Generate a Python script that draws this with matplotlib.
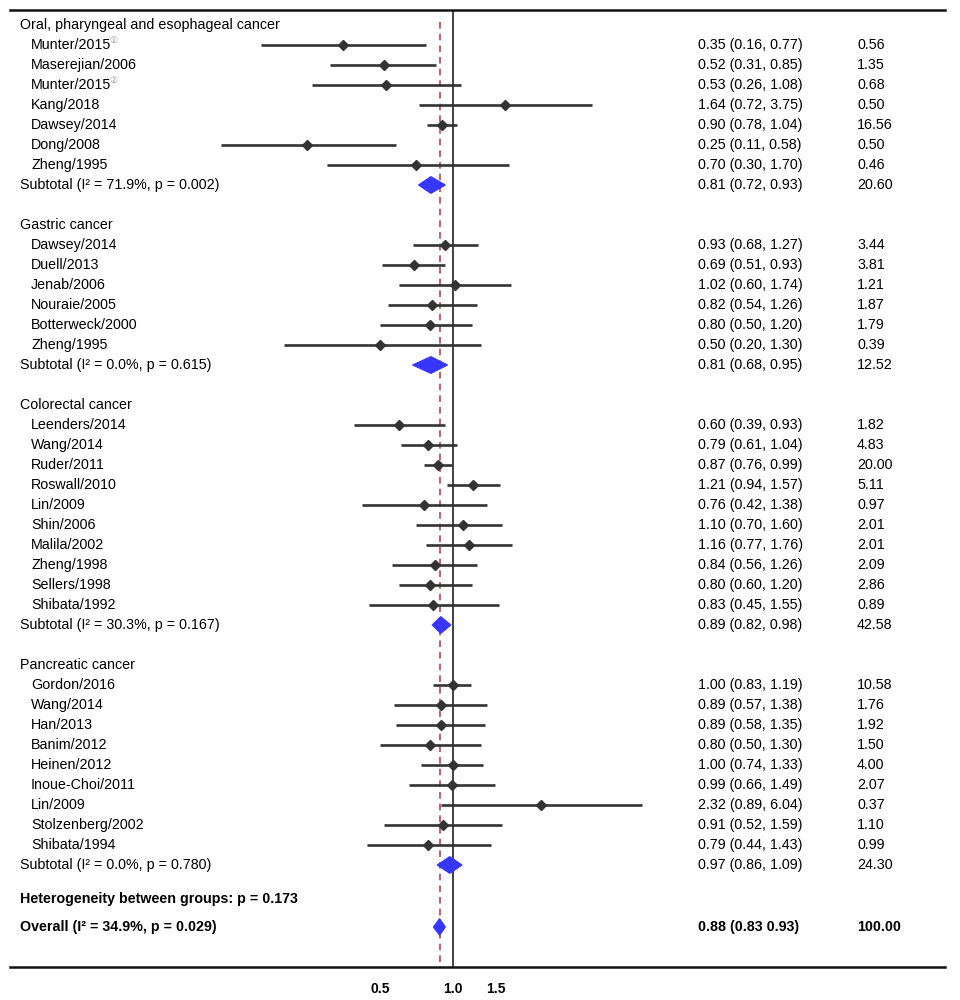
import numpy as np
import matplotlib
matplotlib.use('Agg')
import matplotlib.pyplot as plt
from matplotlib.patches import Polygon

plt.rcParams['font.family'] = ['Liberation Sans', 'DejaVu Sans']

# data
groups = ['Oral, pharyngeal and esophageal cancer', 'Gastric cancer',
          'Colorectal cancer', 'Pancreatic cancer']

oral_names = ['Munter/2015', 'Maserejian/2006', 'Munter/2015', 'Kang/2018',
              'Dawsey/2014', 'Dong/2008', 'Zheng/1995']
oral_sup = ['\u2460', '', '\u2461', '', '', '', '']
oral_or = [0.35, 0.52, 0.53, 1.64, 0.90, 0.25, 0.70]
oral_lo = [0.16, 0.31, 0.26, 0.72, 0.78, 0.11, 0.30]
oral_hi = [0.77, 0.85, 1.08, 3.75, 1.04, 0.58, 1.70]
oral_w = [0.56, 1.35, 0.68, 0.50, 16.56, 0.50, 0.46]

gastric_names = ['Dawsey/2014', 'Duell/2013', 'Jenab/2006', 'Nouraie/2005',
                 'Botterweck/2000', 'Zheng/1995']
gastric_or = [0.93, 0.69, 1.02, 0.82, 0.80, 0.50]
gastric_lo = [0.68, 0.51, 0.60, 0.54, 0.50, 0.20]
gastric_hi = [1.27, 0.93, 1.74, 1.26, 1.20, 1.30]
gastric_w = [3.44, 3.81, 1.21, 1.87, 1.79, 0.39]

crc_names = ['Leenders/2014', 'Wang/2014', 'Ruder/2011', 'Roswall/2010',
             'Lin/2009', 'Shin/2006', 'Malila/2002', 'Zheng/1998',
             'Sellers/1998', 'Shibata/1992']
crc_or = [0.60, 0.79, 0.87, 1.21, 0.76, 1.10, 1.16, 0.84, 0.80, 0.83]
crc_lo = [0.39, 0.61, 0.76, 0.94, 0.42, 0.70, 0.77, 0.56, 0.60, 0.45]
crc_hi = [0.93, 1.04, 0.99, 1.57, 1.38, 1.60, 1.76, 1.26, 1.20, 1.55]
crc_w = [1.82, 4.83, 20.00, 5.11, 0.97, 2.01, 2.01, 2.09, 2.86, 0.89]

panc_names = ['Gordon/2016', 'Wang/2014', 'Han/2013', 'Banim/2012',
              'Heinen/2012', 'Inoue-Choi/2011', 'Lin/2009',
              'Stolzenberg/2002', 'Shibata/1994']
panc_or = [1.00, 0.89, 0.89, 0.80, 1.00, 0.99, 2.32, 0.91, 0.79]
panc_lo = [0.83, 0.57, 0.58, 0.50, 0.74, 0.66, 0.89, 0.52, 0.44]
panc_hi = [1.19, 1.38, 1.35, 1.30, 1.33, 1.49, 6.04, 1.59, 1.43]
panc_w = [10.58, 1.76, 1.92, 1.50, 4.00, 2.07, 0.37, 1.10, 0.99]

sub_labels = ['Subtotal (I\u00b2 = 71.9%, p = 0.002)',
              'Subtotal (I\u00b2 = 0.0%, p = 0.615)',
              'Subtotal (I\u00b2 = 30.3%, p = 0.167)',
              'Subtotal (I\u00b2 = 0.0%, p = 0.780)']
sub_or = [0.81, 0.81, 0.89, 0.97]
sub_lo = [0.72, 0.68, 0.82, 0.86]
sub_hi = [0.93, 0.95, 0.98, 1.09]
sub_w = [20.60, 12.52, 42.58, 24.30]

het_label = 'Heterogeneity between groups: p = 0.173'
overall_label = 'Overall (I\u00b2 = 34.9%, p = 0.029)'
overall_or, overall_lo, overall_hi, overall_w = 0.88, 0.83, 0.93, 100.00

study_sets = [
    (oral_names, oral_sup, oral_or, oral_lo, oral_hi, oral_w),
    (gastric_names, [''] * 6, gastric_or, gastric_lo, gastric_hi, gastric_w),
    (crc_names, [''] * 10, crc_or, crc_lo, crc_hi, crc_w),
    (panc_names, [''] * 9, panc_or, panc_lo, panc_hi, panc_w),
]

W, H = 960, 1000
fig = plt.figure(figsize=(9.6, 10), dpi=100)
ax = fig.add_axes([10 / W, 33 / H, 935 / W, 957 / H])

# log scale: 1.0 sits at x=453 px, ~105 px per ln unit
scale = 105.0
ax.set_xscale('log')
ax.set_xlim(np.exp((10 - 453) / scale), np.exp((945 - 453) / scale))
ax.set_ylim(47.1, -0.75)

fs = 10.3
mark_col = '#333333'
diam_col = '#3636ff'
x_head, x_study = 10 / 935, 21 / 935
x_ci, x_wt = 688 / 935, 847 / 935
tr = matplotlib.transforms.blended_transform_factory(ax.transAxes, ax.transData)


def diamond(est, lo, hi, y, h=0.42):
    verts = [(lo, y), (est, y - h), (hi, y), (est, y + h)]
    ax.add_patch(Polygon(verts, closed=True, facecolor=diam_col,
                         edgecolor=diam_col, lw=0.8, zorder=4))


row = 0
for g, (names, sups, ors, los, his, ws), sl, so, slo, shi, sw in zip(
        groups, study_sets, sub_labels, sub_or, sub_lo, sub_hi, sub_w):
    ax.text(x_head, row, g, transform=tr, va='center', ha='left', fontsize=fs)
    row += 1
    for n, s, o, lo, hi, w in zip(names, sups, ors, los, his, ws):
        t = ax.text(x_study, row, n, transform=tr, va='center', ha='left',
                    fontsize=fs)
        if s:
            ax.annotate(s, xy=(0.98, 0.5), xycoords=t, va='bottom', ha='left',
                        fontsize=6.5, color='#9a9a9a',
                        family=['DejaVu Sans'])
        ax.plot([lo, hi], [row, row], color=mark_col, lw=1.9,
                solid_capstyle='butt', zorder=3)
        ax.plot(o, row, marker='D', color=mark_col, ms=5.3, zorder=3)
        ax.text(x_ci, row, f'{o:.2f} ({lo:.2f}, {hi:.2f})', transform=tr,
                va='center', ha='left', fontsize=fs)
        ax.text(x_wt, row, f'{w:.2f}', transform=tr, va='center', ha='left',
                fontsize=fs)
        row += 1
    ax.text(x_head, row, sl, transform=tr, va='center', ha='left', fontsize=fs)
    diamond(so, slo, shi, row)
    ax.text(x_ci, row, f'{so:.2f} ({slo:.2f}, {shi:.2f})', transform=tr,
            va='center', ha='left', fontsize=fs)
    ax.text(x_wt, row, f'{sw:.2f}', transform=tr, va='center', ha='left',
            fontsize=fs)
    last_sub = row
    row += 2

het_row = last_sub + 1.7
overall_row = last_sub + 3.1
ax.text(x_head, het_row, het_label, transform=tr, va='center', ha='left',
        fontsize=fs, fontweight='bold')
ax.text(x_head, overall_row, overall_label, transform=tr, va='center',
        ha='left', fontsize=fs, fontweight='bold')
diamond(overall_or, overall_lo, overall_hi, overall_row)
ax.text(x_ci, overall_row,
        f'{overall_or:.2f} ({overall_lo:.2f} {overall_hi:.2f})', transform=tr,
        va='center', ha='left', fontsize=fs, fontweight='bold')
ax.text(x_wt, overall_row, f'{overall_w:.2f}', transform=tr, va='center',
        ha='left', fontsize=fs, fontweight='bold')

ax.axvline(1.0, color='#222222', lw=1.2, zorder=2)
ax.axvline(overall_or, ymin=0.005, ymax=0.993, color='#b5474f', lw=1.2,
           ls=(0, (4, 3)), zorder=2)

for side in ['left', 'right']:
    ax.spines[side].set_visible(False)
for side in ['top', 'bottom']:
    ax.spines[side].set_linewidth(1.8)
    ax.spines[side].set_color('#111111')

ax.set_yticks([])
ax.set_xticks([0.5, 1.0, 1.5])
ax.set_xticklabels(['0.5', '1.0', '1.5'], fontweight='bold', fontsize=10)
ax.xaxis.set_minor_locator(matplotlib.ticker.NullLocator())
ax.tick_params(axis='x', length=0, pad=11)

fig.savefig('out.png', dpi=100)
